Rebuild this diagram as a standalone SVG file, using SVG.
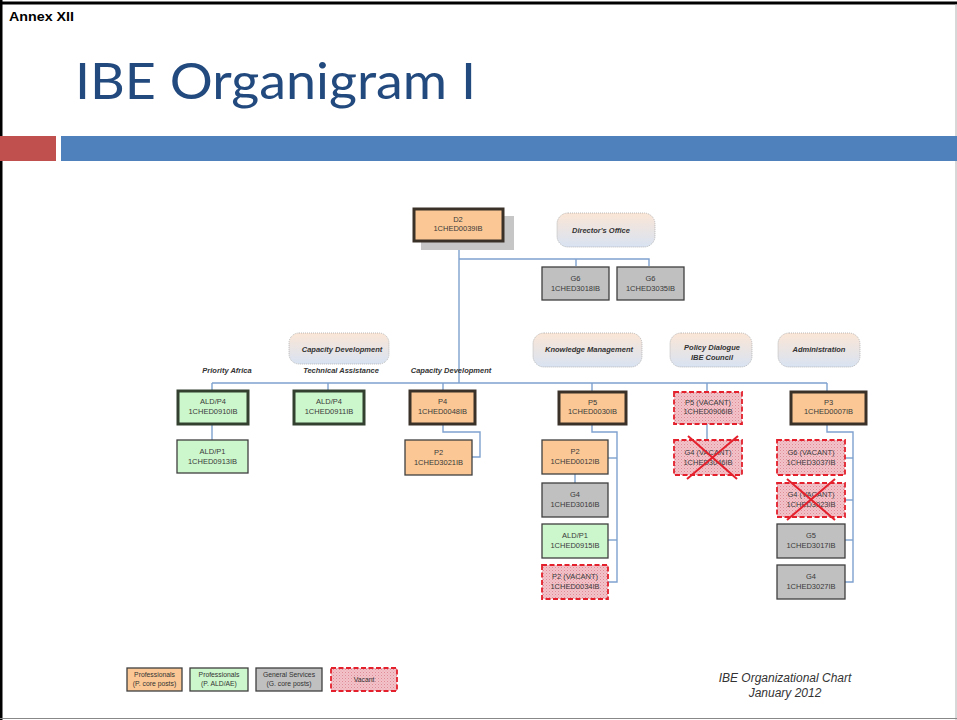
<svg xmlns="http://www.w3.org/2000/svg" width="957" height="720" viewBox="0 0 957 720">
<defs>
<linearGradient id="bub" x1="0" y1="0" x2="0" y2="1">
<stop offset="0" stop-color="#fbe6d6"/>
<stop offset="1" stop-color="#d8e3f2"/>
</linearGradient>
<pattern id="hatch" width="3" height="3" patternUnits="userSpaceOnUse">
<rect width="3" height="3" fill="#f3c3ca"/>
<rect width="1" height="1" fill="#e08a98"/>
<rect x="1.5" y="1.5" width="1" height="1" fill="#e8a0ac"/>
</pattern>
<style>
.t{font-family:"Liberation Sans",Arial,sans-serif;font-size:7.5px;fill:#3a3a3a;text-anchor:middle}
.lb{font-family:"Liberation Sans",Arial,sans-serif;font-size:7.5px;font-weight:bold;font-style:italic;fill:#333;text-anchor:middle}
.lg{font-family:"Liberation Sans",Arial,sans-serif;font-size:6.8px;fill:#333;text-anchor:middle}
.org{fill:#fbc895}
.grn{fill:#ccf6cc}
.gry{fill:#c0c0c0}
.thick{stroke:#3a3128;stroke-width:3}
.thickg{stroke:#33402f;stroke-width:3}
.thin{stroke:#3f3f3f;stroke-width:1.3}
.vac{fill:url(#hatch);stroke:#e3202c;stroke-width:1.8;stroke-dasharray:5 2.5}
.bub{fill:url(#bub);stroke:#a8a8a8;stroke-width:0.8;stroke-dasharray:1 1}
.x{stroke:#e3202c;stroke-width:2}
.c{fill:none;stroke:#7ea1cf;stroke-width:1.4}
</style>
</defs>
<rect width="957" height="720" fill="#fff"/>
<!-- frame -->
<line x1="0" y1="3" x2="957" y2="3" stroke="#000" stroke-width="3"/>
<line x1="1" y1="0" x2="1" y2="720" stroke="#000" stroke-width="3"/>
<line x1="956" y1="4" x2="956" y2="720" stroke="#b0b0b0" stroke-width="1"/>
<line x1="0" y1="718.5" x2="957" y2="718.5" stroke="#888" stroke-width="1"/>
<text x="9" y="20.5" font-family="Liberation Sans,Arial,sans-serif" font-size="13" font-weight="bold" fill="#000" textLength="65" lengthAdjust="spacingAndGlyphs">Annex XII</text>
<text x="75" y="99" font-family="Lato,'Open Sans',sans-serif" font-size="51" font-weight="400" fill="#234a7e" textLength="401" lengthAdjust="spacingAndGlyphs">IBE Organigram I</text>
<rect x="0" y="136" width="56" height="25" fill="#c0504d"/>
<rect x="61" y="136" width="896" height="25" fill="#4f81bd"/>

<!-- connectors -->
<g id="connectors">
<polyline class="c" points="459,241 459,383"/>
<polyline class="c" points="459,259 649,259 649,266"/>
<polyline class="c" points="576,259 576,266"/>
<polyline class="c" points="212,383 827,383"/>
<line class="c" x1="212" y1="383" x2="212" y2="390"/>
<line class="c" x1="328" y1="383" x2="328" y2="390"/>
<line class="c" x1="443" y1="383" x2="443" y2="390"/>
<line class="c" x1="592" y1="383" x2="592" y2="391"/>
<line class="c" x1="707" y1="383" x2="707" y2="391"/>
<line class="c" x1="827" y1="383" x2="827" y2="391"/>
<line class="c" x1="212" y1="424" x2="212" y2="440"/>
<polyline class="c" points="443,424 443,432 480,432 480,457 472,457"/>
<polyline class="c" points="592,424 592,432 617,432 617,582 608,582"/>
<line class="c" x1="617" y1="458" x2="608" y2="458"/>
<line class="c" x1="617" y1="540" x2="608" y2="540"/>
<line class="c" x1="575" y1="474" x2="575" y2="483"/>
<line class="c" x1="707" y1="424" x2="707" y2="440"/>
<polyline class="c" points="827,424 827,432 853,432 853,582 845,582"/>
<line class="c" x1="853" y1="458" x2="845" y2="458"/>
<line class="c" x1="853" y1="500" x2="845" y2="500"/>
<line class="c" x1="853" y1="540" x2="845" y2="540"/>
</g>

<!-- top -->
<g id="d2">
<rect x="421" y="216" width="93" height="34" fill="#c6c6c6"/>
<rect class="org thick" x="414" y="209" width="89" height="32"/>
<text class="t" x="458" y="222">D2</text>
<text class="t" x="458" y="231">1CHED0039IB</text>
</g>
<g id="directors-office">
<rect class="bub" x="557" y="213" width="98" height="34" rx="11"/>
<text class="lb" x="601" y="233">Director's Office</text>
</g>
<g id="g6-3018">
<rect class="gry thin" x="542" y="267" width="67" height="33"/>
<text class="t" x="575.5" y="281">G6</text>
<text class="t" x="575.5" y="291">1CHED3018IB</text>
</g>
<g id="g6-3035">
<rect class="gry thin" x="617" y="267" width="67" height="33"/>
<text class="t" x="650.5" y="281">G6</text>
<text class="t" x="650.5" y="291">1CHED3035IB</text>
</g>

<!-- unit bubbles -->
<g id="bub-capdev">
<rect class="bub" x="289" y="333" width="100" height="31" rx="10"/>
<text class="lb" x="342" y="352">Capacity Development</text>
</g>
<g id="bub-km">
<rect class="bub" x="533" y="333" width="109" height="34" rx="11"/>
<text class="lb" x="589" y="352">Knowledge Management</text>
</g>
<g id="bub-policy">
<rect class="bub" x="670" y="333" width="82" height="34" rx="11"/>
<text class="lb" x="712" y="350">Policy Dialogue</text>
<text class="lb" x="712" y="360">IBE Council</text>
</g>
<g id="bub-admin">
<rect class="bub" x="778" y="333" width="82" height="34" rx="11"/>
<text class="lb" x="819" y="352">Administration</text>
</g>
<g id="labels">
<text class="lb" x="227" y="373">Priority Africa</text>
<text class="lb" x="341" y="373">Technical Assistance</text>
<text class="lb" x="451" y="373">Capacity Development</text>
</g>

<!-- column 1 -->
<g id="ald-p4-0910">
<rect class="grn thickg" x="178" y="391" width="70" height="33"/>
<text class="t" x="213" y="404">ALD/P4</text>
<text class="t" x="213" y="414">1CHED0910IB</text>
</g>
<g id="ald-p1-0913">
<rect class="grn thin" x="177" y="440" width="71" height="33"/>
<text class="t" x="212.5" y="454">ALD/P1</text>
<text class="t" x="212.5" y="464">1CHED0913IB</text>
</g>
<g id="ald-p4-0911">
<rect class="grn thickg" x="294" y="391" width="70" height="33"/>
<text class="t" x="329" y="404">ALD/P4</text>
<text class="t" x="329" y="414">1CHED0911IB</text>
</g>
<g id="p4-0048">
<rect class="org thick" x="410" y="391" width="65" height="33"/>
<text class="t" x="442.5" y="404">P4</text>
<text class="t" x="442.5" y="414">1CHED0048IB</text>
</g>
<g id="p2-3021">
<rect class="org thin" x="405" y="440" width="67" height="35"/>
<text class="t" x="438.5" y="455">P2</text>
<text class="t" x="438.5" y="465">1CHED3021IB</text>
</g>

<!-- knowledge management -->
<g id="p5-0030">
<rect class="org thick" x="559" y="392" width="67" height="32"/>
<text class="t" x="592.5" y="405">P5</text>
<text class="t" x="592.5" y="414">1CHED0030IB</text>
</g>
<g id="p2-0012">
<rect class="org thin" x="542" y="440" width="66" height="34"/>
<text class="t" x="575" y="454">P2</text>
<text class="t" x="575" y="464">1CHED0012IB</text>
</g>
<g id="g4-3016">
<rect class="gry thin" x="542" y="483" width="66" height="34"/>
<text class="t" x="575" y="497">G4</text>
<text class="t" x="575" y="507">1CHED3016IB</text>
</g>
<g id="ald-p1-0915">
<rect class="grn thin" x="542" y="524" width="66" height="34"/>
<text class="t" x="575" y="538">ALD/P1</text>
<text class="t" x="575" y="548">1CHED0915IB</text>
</g>
<g id="p2-0034">
<rect class="vac" x="542" y="565" width="66" height="34"/>
<text class="t" x="575" y="579">P2 (VACANT)</text>
<text class="t" x="575" y="589">1CHED0034IB</text>
</g>

<!-- policy -->
<g id="p5-0906">
<rect class="vac" x="674" y="392" width="68" height="32"/>
<text class="t" x="708" y="405">P5 (VACANT)</text>
<text class="t" x="708" y="414">1CHED0906IB</text>
</g>
<g id="g4-3046">
<rect class="vac" x="674" y="440" width="68" height="35"/>
<text class="t" x="708" y="455">G4 (VACANT)</text>
<text class="t" x="708" y="465">1CHED3046IB</text>
<line class="x" x1="688" y1="436" x2="737" y2="479"/>
<line class="x" x1="738" y1="436" x2="687" y2="479"/>
</g>

<!-- administration -->
<g id="p3-0007">
<rect class="org thick" x="791" y="392" width="75" height="32"/>
<text class="t" x="828.5" y="405">P3</text>
<text class="t" x="828.5" y="414">1CHED0007IB</text>
</g>
<g id="g6-3037">
<rect class="vac" x="777" y="440" width="68" height="35"/>
<text class="t" x="811" y="455">G6 (VACANT)</text>
<text class="t" x="811" y="465">1CHED3037IB</text>
</g>
<g id="g4-3023">
<rect class="vac" x="777" y="483" width="68" height="34"/>
<text class="t" x="811" y="497">G4 (VACANT)</text>
<text class="t" x="811" y="507">1CHED3023IB</text>
<line class="x" x1="787" y1="479" x2="835" y2="520"/>
<line class="x" x1="835" y1="479" x2="787" y2="520"/>
</g>
<g id="g5-3017">
<rect class="gry thin" x="777" y="524" width="68" height="34"/>
<text class="t" x="811" y="538">G5</text>
<text class="t" x="811" y="548">1CHED3017IB</text>
</g>
<g id="g4-3027">
<rect class="gry thin" x="777" y="565" width="68" height="34"/>
<text class="t" x="811" y="579">G4</text>
<text class="t" x="811" y="589">1CHED3027IB</text>
</g>

<!-- legend -->
<g id="legend-prof-core">
<rect class="org thin" x="127" y="668" width="55" height="23"/>
<text class="lg" x="154.5" y="677">Professionals</text>
<text class="lg" x="154.5" y="686">(P. core posts)</text>
</g>
<g id="legend-prof-ald">
<rect class="grn thin" x="190" y="668" width="58" height="23"/>
<text class="lg" x="219" y="677">Professionals</text>
<text class="lg" x="219" y="686">(P. ALD/AE)</text>
</g>
<g id="legend-gs">
<rect class="gry thin" x="256" y="668" width="66" height="23"/>
<text class="lg" x="289" y="677">General Services</text>
<text class="lg" x="289" y="686">(G. core posts)</text>
</g>
<g id="legend-vacant">
<rect class="vac" x="331" y="668" width="66" height="23"/>
<text class="lg" x="364" y="681.5">Vacant</text>
</g>

<text x="785" y="682" font-family="Liberation Sans,Arial,sans-serif" font-size="12" font-style="italic" fill="#333" text-anchor="middle">IBE Organizational Chart</text>
<text x="785" y="697" font-family="Liberation Sans,Arial,sans-serif" font-size="12" font-style="italic" fill="#333" text-anchor="middle">January 2012</text>
</svg>
